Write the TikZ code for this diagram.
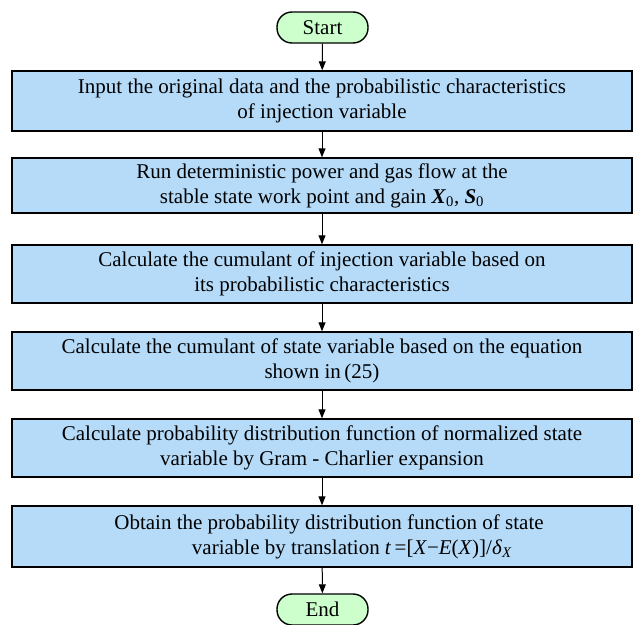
\documentclass[tikz,border=0pt]{standalone}
\usepackage{fontspec}
\setmainfont{Liberation Serif}
\usetikzlibrary{arrows.meta}
\definecolor{stepfill}{HTML}{B5DBF9}
\definecolor{termfill}{HTML}{CCFFCC}
\tikzset{
  stepbox/.style  = {draw=black, fill=stepfill, line width=1.4pt, minimum width=620pt,
                     align=center, inner sep=0pt, font=\fontsize{21}{25}\selectfont},
  terminal/.style = {draw=black, fill=termfill, line width=1.4pt, rounded corners=15pt,
                     minimum width=91pt, minimum height=31pt, inner sep=0pt,
                     font=\fontsize{21}{25}\selectfont},
  flow/.style     = {-{Triangle[length=9pt,width=7pt]}, draw=black, line width=1pt},
}
\newcommand{\bvec}[1]{\textbf{\textit{#1}}}

\begin{document}
\begin{tikzpicture}[x=1pt,y=1pt]
    \useasboundingbox (0,0) rectangle (634,-624);
    \node[terminal] (start) at (322.5,-27.5) {Start};
    \node[stepbox,minimum height=60pt] (s1) at (322,-101)
      {Input the original data and the probabilistic characteristics\\of injection variable};
    \node[stepbox,minimum height=55pt] (s2) at (322,-185.5)
      {Run deterministic power and gas flow at the\\stable state work point and gain
       \bvec{X}\textsubscript{0}, \bvec{S}\textsubscript{0}};
    \node[stepbox,minimum height=58pt] (s3) at (322,-274)
      {Calculate the cumulant of injection variable based on\\its probabilistic characteristics};
    \node[stepbox,minimum height=58pt] (s4) at (322,-361)
      {Calculate the cumulant of state variable based on the equation\\shown in\,(25)};
    \node[stepbox,minimum height=58pt] (s5) at (322,-448)
      {Calculate probability distribution function of normalized state\\variable by Gram - Charlier expansion};
    \node[stepbox,minimum height=61pt] (s6) at (322,-536.5)
      {\hspace*{14pt}Obtain the probability distribution function of state\\
       \hspace*{60pt}variable by translation \textit{t}\,=[\textit{X}−\textit{E}(\textit{X})]/\textit{δ}\textsubscript{\textit{X}}};
    \node[terminal] (end) at (322.5,-609.5) {End};
    \foreach \a/\b in {start/s1, s1/s2, s2/s3, s3/s4, s4/s5, s5/s6, s6/end}{
      \draw[flow] (\a) -- (\b);}
\end{tikzpicture}
\end{document}
